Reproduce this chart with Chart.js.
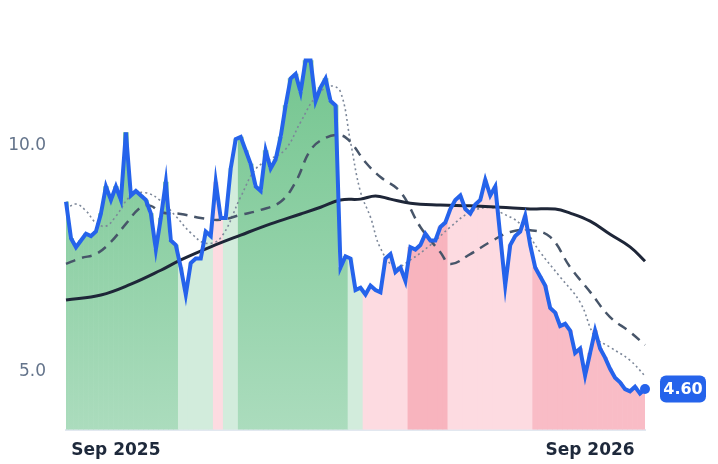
<!DOCTYPE html>
<html>
<head>
<meta charset="utf-8">
<script src="https://cdn.jsdelivr.net/npm/chart.js@4"></script>
<style>
  html, body { margin: 0; padding: 0; background: #fff; }
  #wrap { width: 718px; height: 464px; }
</style>
</head>
<body>
<div id="wrap"><canvas id="chart"></canvas></div>
<script>
/* ---- Data ---- */
const price = [
  8.76, 7.95, 7.75, 7.9, 8.05, 8.0, 8.1, 8.5, 9.1, 8.8, 9.1, 8.8, 10.3, 8.9, 9.0, 8.9, 8.8, 8.5, 7.7, 8.4,
  9.2, 7.9, 7.8, 7.3, 6.7, 7.4, 7.5, 7.5, 8.1, 8.0, 9.2, 8.4, 8.4, 9.5, 10.15, 10.2, 9.9, 9.6, 9.1, 9.0,
  9.9, 9.5, 9.7, 10.2, 10.9, 11.5, 11.6, 11.2, 11.9, 11.9, 11.0, 11.3, 11.5, 11.0, 10.9, 7.3, 7.55, 7.5, 6.8, 6.85,
  6.7, 6.9, 6.8, 6.75, 7.5, 7.6, 7.2, 7.3, 7.0, 7.75, 7.7, 7.8, 8.05, 7.9, 7.9, 8.2, 8.3, 8.6, 8.8, 8.9,
  8.6, 8.5, 8.7, 8.8, 9.25, 8.9, 9.1, 8.0, 6.9, 7.8, 8.0, 8.1, 8.45, 7.8, 7.3, 7.1, 6.9, 6.4, 6.3, 6.0,
  6.05, 5.9, 5.4, 5.5, 4.9, 5.4, 5.9, 5.5, 5.3, 5.05, 4.85, 4.75, 4.6, 4.55, 4.65, 4.5, 4.6
];
const maFast = [[0,8.6],[2,8.71],[4,8.56],[6,8.29],[8,8.22],[10,8.44],[13,8.89],[16,8.96],[19,8.78],[22,8.44],
  [25,8.07],[28,7.84],[31,7.96],[35,8.87],[38,9.49],[41,9.71],[44,9.93],[47,10.53],[50,11.09],[53,11.33],
  [55,11.2],[57,10.09],[59,8.98],[61,8.42],[63,7.73],[66,7.31],[69,7.47],[73,7.8],[77,8.2],[81,8.53],
  [85,8.64],[87,8.53],[91,8.27],[95,7.64],[99,7.09],[103,6.53],[106,5.76],[109,5.53],[113,5.24],[116,4.89]];
const maMid = [[0,7.38],[3,7.51],[6,7.6],[9,7.87],[12,8.27],[15,8.64],[17,8.67],[19,8.53],[23,8.49],[27,8.4],
  [31,8.36],[35,8.47],[39,8.58],[43,8.76],[46,9.2],[49,9.91],[52,10.18],[55,10.24],[57,10.09],[60,9.64],
  [63,9.31],[67,8.98],[71,8.2],[75,7.64],[77,7.38],[81,7.6],[85,7.87],[89,8.09],[93,8.13],[97,7.98],
  [101,7.31],[105,6.76],[109,6.2],[113,5.87],[116,5.58]];
const maSlow = [[0,6.58],[7,6.69],[13,6.93],[19,7.24],[23,7.47],[29,7.76],[35,8.02],[41,8.27],[47,8.49],[51,8.64],
  [55,8.8],[59,8.82],[62,8.89],[65,8.82],[69,8.73],[75,8.69],[81,8.67],[87,8.64],[93,8.6],[98,8.6],
  [101,8.51],[105,8.33],[109,8.04],[113,7.76],[116,7.44]];
// [first index, last index, zone]
const zones = [[0,22,'up'],[23,29,'upWeak'],[30,31,'downWeak'],[32,34,'upWeak'],[35,56,'up'],[57,59,'upWeak'],
  [60,68,'downWeak'],[69,76,'downStrong'],[77,93,'downWeak'],[94,116,'down']];
const tickLabels = { 10: 'Sep 2025', 105: 'Sep 2026' };
const yTicks = [5, 10];

const labels = price.map((_, i) => tickLabels[i] || '');
// sparse series on the same index grid, gaps bridged by spanGaps
function sparse(arr) {
  const out = price.map(() => null);
  arr.forEach(([i, v]) => { out[i] = v; });
  return out;
}

function zoneOf(i) {
  const z = zones.find(z => i >= z[0] && i <= z[1]);
  return z ? z[2] : 'down';
}

function barColor(ctx) {
  const chart = ctx.chart;
  const area = chart.chartArea;
  const type = zoneOf(ctx.dataIndex);
  if (!area) return '#fff';
  if (type === 'up') {
    const g = chart.ctx.createLinearGradient(0, area.top, 0, area.bottom);
    g.addColorStop(0, '#6fc38b');
    g.addColorStop(1, '#abdcbd');
    return g;
  }
  return { upWeak: '#d2ecdc', downWeak: '#fddbe1', downStrong: '#f8b4be', down: '#f9bcc6' }[type];
}

/* ---- Last value badge ---- */
const lastBadge = {
  id: 'lastBadge',
  afterDatasetsDraw(chart) {
    const { ctx, scales } = chart;
    const i = price.length - 1;
    const x = scales.x.getPixelForValue(i);
    const y = scales.y.getPixelForValue(price[i]);
    ctx.save();
    ctx.fillStyle = '#2563eb';
    ctx.beginPath(); ctx.arc(x, y, 5, 0, Math.PI * 2); ctx.fill();
    const w = 46, h = 27, bx = x + 15;
    ctx.beginPath(); ctx.roundRect(bx, y - h / 2, w, h, 6); ctx.fill();
    ctx.fillStyle = '#fff';
    ctx.font = 'bold 16px "DejaVu Sans"';
    ctx.textAlign = 'center'; ctx.textBaseline = 'middle';
    ctx.fillText(price[i].toFixed(2), bx + w / 2, y + 1);
    ctx.restore();
  }
};

new Chart(document.getElementById('chart'), {
  data: {
    labels,
    datasets: [
      { type: 'line', data: price, borderColor: '#2563eb', borderWidth: 4, pointRadius: 0, tension: 0, order: 0 },
      { type: 'line', data: sparse(maFast), spanGaps: true, borderColor: '#7c8799', borderWidth: 1.6, borderDash: [2, 3], pointRadius: 0, tension: 0.4, order: 3 },
      { type: 'line', data: sparse(maMid), spanGaps: true, borderColor: '#475569', borderWidth: 2.5, borderDash: [10, 7], pointRadius: 0, tension: 0.4, order: 2 },
      { type: 'line', data: sparse(maSlow), spanGaps: true, borderColor: '#1e2638', borderWidth: 3, pointRadius: 0, tension: 0.4, order: 1 },
      { type: 'bar', data: price, backgroundColor: barColor, borderWidth: 0, barPercentage: 1, categoryPercentage: 1, order: 5 }
    ]
  },
  options: {
    responsive: true,
    maintainAspectRatio: false,
    animation: false,
    layout: { padding: { top: 21, right: 73, left: 0, bottom: 0 } },
    plugins: { legend: { display: false }, tooltip: { enabled: false } },
    scales: {
      x: {
        offset: false,
        grid: { display: false },
        border: { color: '#e2e8f0', width: 2 },
        ticks: {
          autoSkip: false, maxRotation: 0, padding: 3,
          color: '#1e293b', font: { size: 17, weight: 'bold', family: 'DejaVu Sans' },
          callback: (v, i) => labels[i] || null
        }
      },
      y: {
        min: 3.7, max: 12.75,
        grid: { display: false },
        border: { display: false },
        afterFit: s => { s.width = 66; },
        afterBuildTicks: s => { s.ticks = yTicks.map(v => ({ value: v })); },
        ticks: {
          color: '#64748b', padding: 12, font: { size: 17, family: 'DejaVu Sans' },
          callback: v => v.toFixed(1)
        }
      }
    }
  },
  plugins: [lastBadge]
});
</script>
</body>
</html>
